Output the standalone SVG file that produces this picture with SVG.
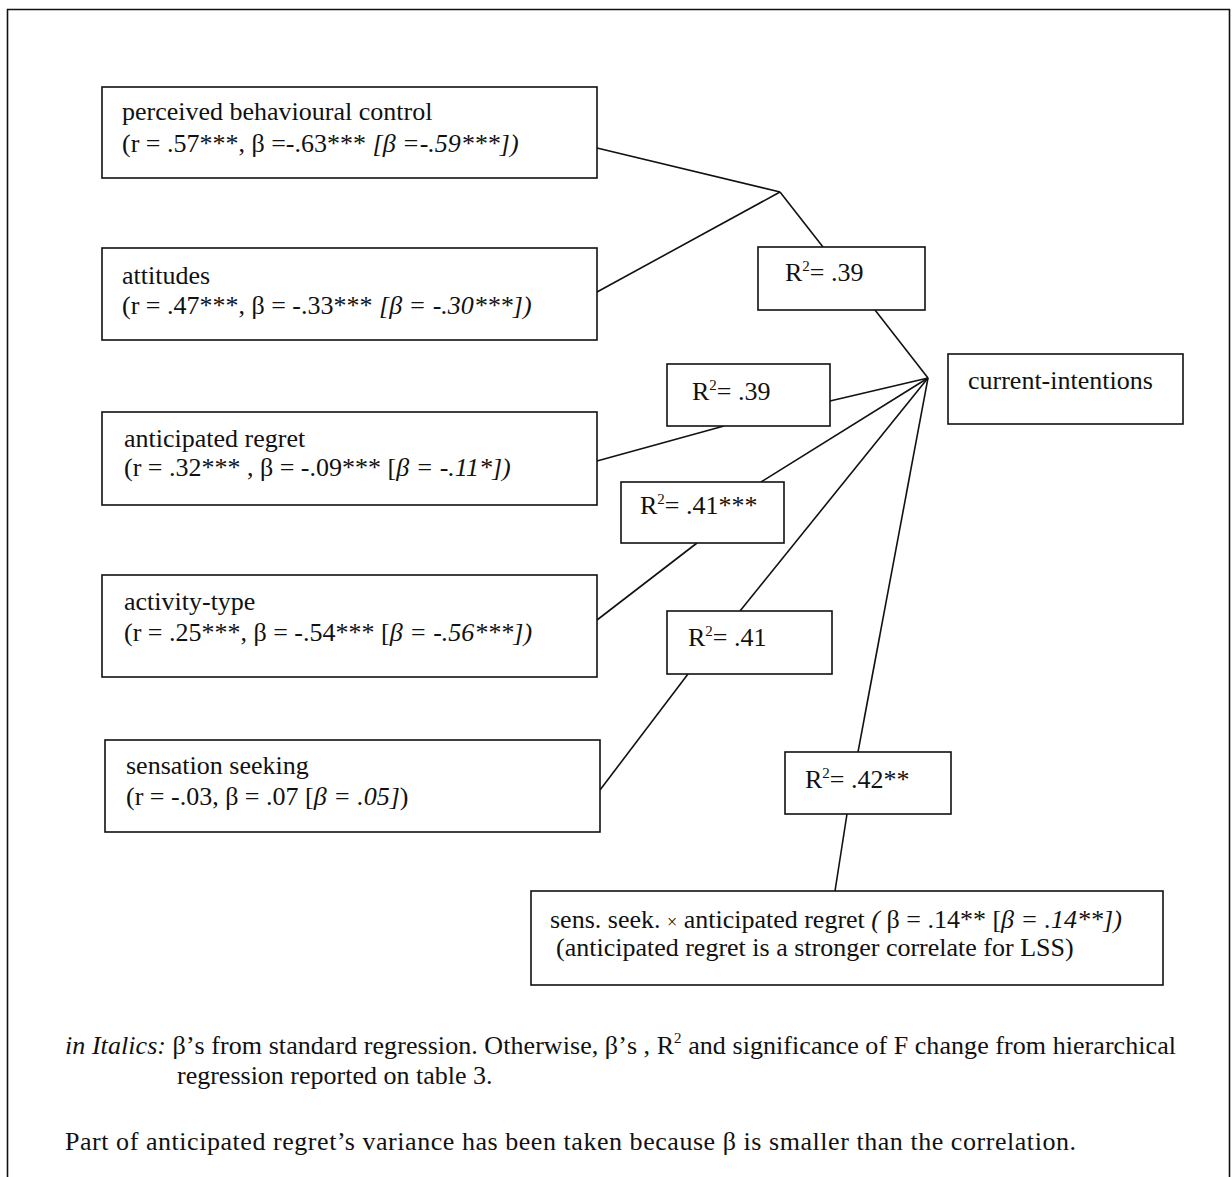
<svg xmlns="http://www.w3.org/2000/svg" width="1232" height="1177" viewBox="0 0 1232 1177">
<style>
.box{fill:#fff;stroke:#111;stroke-width:1.6}
.ln{stroke:#111;stroke-width:1.6;fill:none}
text{font-family:"Liberation Serif","Times New Roman",serif;font-size:26px;fill:#111}
.i{font-style:italic}
.sup{font-size:15px}
</style>
<rect width="1232" height="1177" fill="#fff"/>
<path class="ln" d="M7.5,1177 V9.5 H1229.5 V1177" stroke-width="2"/>
<g id="connectors">
<line class="ln" x1="597" y1="148" x2="780" y2="192"/>
<line class="ln" x1="597" y1="292" x2="780" y2="192"/>
<line class="ln" x1="780" y1="192" x2="823" y2="247"/>
<line class="ln" x1="875" y1="310" x2="928" y2="378"/>
<line class="ln" x1="597" y1="461" x2="724" y2="426"/>
<line class="ln" x1="830" y1="401" x2="928" y2="378"/>
<line class="ln" x1="597" y1="620" x2="697" y2="543"/>
<line class="ln" x1="761" y1="482" x2="928" y2="378"/>
<line class="ln" x1="600" y1="790" x2="688" y2="674"/>
<line class="ln" x1="740" y1="611" x2="928" y2="378"/>
<line class="ln" x1="835" y1="891" x2="847" y2="814"/>
<line class="ln" x1="858" y1="752" x2="928" y2="378"/>
</g>
<g id="pbc">
<rect class="box" x="102" y="87" width="495" height="91"/>
<text x="122" y="120">perceived behavioural control</text>
<text x="122" y="152">(r = .57***, β =-.63*** <tspan class="i">[β  =-.59***])</tspan></text>
</g>
<g id="attitudes">
<rect class="box" x="102" y="248" width="495" height="92"/>
<text x="122" y="284">attitudes</text>
<text x="122" y="314">(r = .47***, β = -.33*** <tspan class="i">[β = -.30***])</tspan></text>
</g>
<g id="regret">
<rect class="box" x="102" y="412" width="495" height="93"/>
<text x="124" y="447">anticipated regret</text>
<text x="124" y="476">(r = .32*** , β = -.09*** [<tspan class="i">β = -.11*])</tspan></text>
</g>
<g id="activity">
<rect class="box" x="102" y="575" width="495" height="102"/>
<text x="124" y="610">activity-type</text>
<text x="124" y="641">(r = .25***, β = -.54*** [<tspan class="i">β = -.56***])</tspan></text>
</g>
<g id="sensation">
<rect class="box" x="105" y="740" width="495" height="92"/>
<text x="126" y="774">sensation seeking</text>
<text x="126" y="805">(r = -.03, β = .07 [<tspan class="i">β = .05]</tspan>)</text>
</g>
<g id="r2-top">
<rect class="box" x="758" y="247" width="167" height="63"/>
<text x="785" y="281">R<tspan class="sup" dy="-10">2</tspan><tspan dy="10">= .39</tspan></text>
</g>
<g id="intentions">
<rect class="box" x="948" y="354" width="235" height="70"/>
<text x="968" y="389">current-intentions</text>
</g>
<g id="r2-regret">
<rect class="box" x="667" y="364" width="163" height="62"/>
<text x="692" y="400">R<tspan class="sup" dy="-10">2</tspan><tspan dy="10">= .39</tspan></text>
</g>
<g id="r2-activity">
<rect class="box" x="621" y="482" width="163" height="61"/>
<text x="640" y="514">R<tspan class="sup" dy="-10">2</tspan><tspan dy="10">= .41***</tspan></text>
</g>
<g id="r2-sensation">
<rect class="box" x="667" y="611" width="165" height="63"/>
<text x="688" y="646">R<tspan class="sup" dy="-10">2</tspan><tspan dy="10">= .41</tspan></text>
</g>
<g id="r2-interaction">
<rect class="box" x="785" y="752" width="166" height="62"/>
<text x="805" y="788">R<tspan class="sup" dy="-10">2</tspan><tspan dy="10">= .42**</tspan></text>
</g>
<g id="interaction">
<rect class="box" x="531" y="891" width="632" height="94"/>
<text x="550" y="928">sens. seek. <tspan font-size="18">×</tspan> anticipated regret  <tspan class="i">(</tspan> β = .14** [<tspan class="i">β = .14**])</tspan></text>
<text x="556" y="956">(anticipated regret is a stronger correlate for LSS)</text>
</g>
<g id="notes">
<text x="65" y="1054" textLength="1111" lengthAdjust="spacing"><tspan class="i">in Italics:</tspan> β’s from standard regression. Otherwise, β’s , R<tspan class="sup" dy="-11">2</tspan><tspan dy="11"> and significance of F change from hierarchical</tspan></text>
<text x="177" y="1084">regression reported on table 3.</text>
<text x="65" y="1150" textLength="1011" lengthAdjust="spacing">Part of anticipated regret’s variance has been taken because β is smaller than the correlation.</text>
</g>
</svg>
